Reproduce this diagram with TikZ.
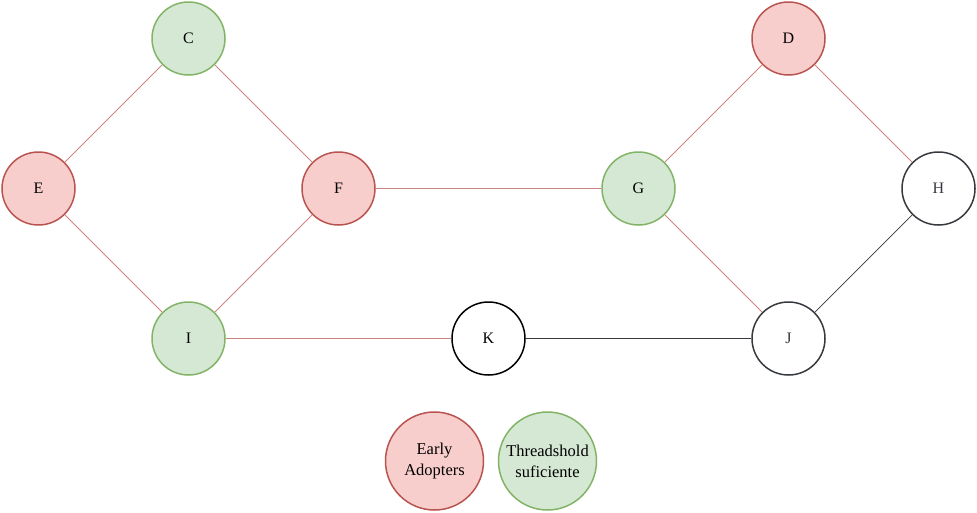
\documentclass[tikz,border=0pt]{standalone}
\usepackage{fontspec}
\setmainfont{Liberation Serif}
\definecolor{redfill}{HTML}{F8CECC}
\definecolor{redline}{HTML}{B85450}
\definecolor{greenfill}{HTML}{D5E8D4}
\definecolor{greenline}{HTML}{82B366}
\definecolor{slate}{HTML}{36393D}
\begin{document}
\begin{tikzpicture}[x=1pt,y=-1pt,
  vertex/.style={circle,minimum size=73pt,inner sep=0pt,line width=1.5pt,
    font=\fontsize{16}{20}\selectfont},
  adopter/.style={vertex,draw=redline,fill=redfill},
  enough/.style={vertex,draw=greenline,fill=greenfill},
  plain/.style={vertex,draw=black,fill=white},
  muted/.style={vertex,draw=slate,fill=white,text=slate},
  legend/.style={minimum size=98pt,align=center,font=\fontsize{16.5}{21}\selectfont},
  redge/.style={draw=redline!72!white,line width=0.8pt},
  gedge/.style={draw=slate,line width=0.7pt}]
\useasboundingbox (0,0) rectangle (977,512);

% network nodes
\node[enough]  (C) at (188.5,38.5)  {C};
\node[adopter] (D) at (788.5,38.5)  {D};
\node[adopter] (E) at (38.5,188.5)  {E};
\node[adopter] (F) at (338.5,188.5) {F};
\node[enough]  (G) at (638.5,188.5) {G};
\node[muted]   (H) at (938.5,188.5) {H};
\node[enough]  (I) at (188.5,338.5) {I};
\node[plain]   (K) at (488.5,338.5) {K};
\node[muted]   (J) at (788.5,338.5) {J};

% connections
\draw[redge] (E) -- (C);
\draw[redge] (C) -- (F);
\draw[redge] (E) -- (I);
\draw[redge] (F) -- (I);
\draw[redge] (F) -- (G);
\draw[redge] (G) -- (D);
\draw[redge] (D) -- (H);
\draw[redge] (G) -- (J);
\draw[redge] (I) -- (K);
\draw[gedge] (H) -- (J);
\draw[gedge] (K) -- (J);

% legend
\node[adopter,legend] (early) at (434.5,461) {Early\\Adopters};
\node[enough,legend]  (thres) at (547.5,461) {Threadshold\\suficiente};
\end{tikzpicture}
\end{document}
